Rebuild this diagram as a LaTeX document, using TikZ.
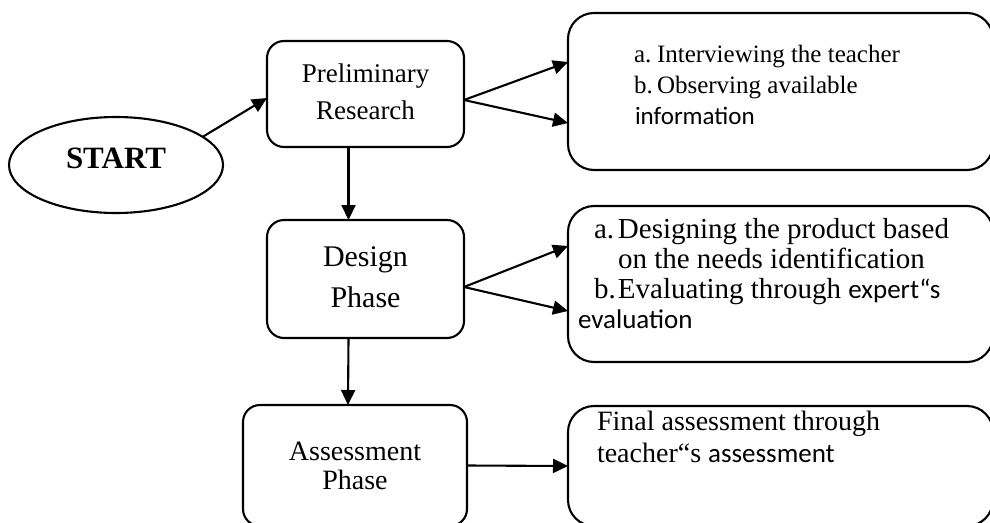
\documentclass[tikz,border=0pt]{standalone}
\usepackage{fontspec}
\setmainfont{Liberation Serif}
\setsansfont{Carlito}
\usetikzlibrary{arrows.meta,shapes.geometric}
\begin{document}
\begin{tikzpicture}[x=1pt,y=-1pt,
  bline/.style={line width=2.1pt},
  arr/.style={bline,-{Triangle[length=15pt,width=14pt]}},
  phasebox/.style={draw,bline,rounded corners=17pt,inner sep=0pt,outer sep=0pt,align=center},
  notebox/.style={draw,bline,rounded corners=26pt,inner sep=0pt,outer sep=0pt,minimum width=425pt},
  txt/.style={anchor=base west,inner sep=0pt,outer sep=0pt}
]
\fill[white] (0,0) rectangle (990,522);
\useasboundingbox (0,0) rectangle (990,522);

% start ellipse
\node[draw,bline,ellipse,inner sep=0pt,outer sep=0pt,minimum width=214pt,minimum height=96pt,
      font=\bfseries\fontsize{31pt}{36pt}\selectfont,text height=21pt,text depth=15pt]
  (start) at (116,165) {START};

% phase boxes
\node[phasebox,minimum width=197pt,minimum height=106pt,font=\fontsize{27pt}{37pt}\selectfont]
  (prelim) at (365.5,94) {Preliminary\\Research\rule[-5pt]{0pt}{5pt}};
\node[phasebox,minimum width=197pt,minimum height=118pt,font=\fontsize{30pt}{41pt}\selectfont]
  (design) at (365.5,279) {Design\\Phase\rule[-4pt]{0pt}{4pt}};
\node[phasebox,minimum width=224pt,minimum height=121pt,font=\fontsize{28pt}{29pt}\selectfont]
  (assess) at (355,465.5) {Assessment\\Phase};

% activity boxes
\node[notebox,minimum height=157pt] (rb1) at (780.5,91.5) {};
\node[notebox,minimum height=156pt] (rb2) at (780.5,284) {};
\node[notebox,minimum height=120pt] (rb3) at (780.5,466) {};

% activity texts
\begin{scope}[font=\fontsize{25pt}{31pt}\selectfont]
\node[txt] (r1a) at (634,62) {\makebox[23pt][l]{a.}Interviewing the teacher};
\node[txt] (r1b) at (634,93) {\makebox[23pt][l]{b.}Observing available};
\node[txt] (r1c) at (635,124) {\sffamily information};
\end{scope}
\begin{scope}[font=\fontsize{29pt}{30pt}\selectfont]
\node[txt] (r2a) at (594,238) {\makebox[24pt][l]{a.}Designing the product based};
\node[txt] (r2b) at (618,268) {on the needs identification};
\node[txt] (r2c) at (594,298) {\makebox[24pt][l]{b.}Evaluating through {\sffamily\fontsize{27pt}{30pt}\selectfont expert“s}};
\node[txt,font=\sffamily\fontsize{27pt}{30pt}\selectfont] (r2d) at (578,328) {evaluation};
\end{scope}
\begin{scope}[font=\fontsize{28pt}{32pt}\selectfont]
\node[txt] (r3a) at (597,430) {Final assessment through};
\node[txt] (r3b) at (597,462) {teacher“s {\sffamily\fontsize{27pt}{32pt}\selectfont assessment}};
\end{scope}

% connectors
\draw[arr] (start.18) -- ([yshift=-4pt]prelim.west);
\coordinate (pfork) at ([yshift=-6pt]prelim.east);
\draw[arr] (pfork) -- ([yshift=29.5pt]rb1.west);
\draw[arr] (pfork) -- ([yshift=-31.5pt]rb1.west);
\draw[arr] ([xshift=-17pt]prelim.south) -- ([xshift=-17pt]design.north);
\coordinate (dfork) at ([yshift=-8pt]design.east);
\draw[arr] (dfork) -- ([yshift=38pt]rb2.west);
\draw[arr] (dfork) -- ([yshift=-27pt]rb2.west);
\draw[arr] ([xshift=-17pt]design.south) -- ([xshift=-7pt]assess.north);
\draw[arr] (assess.east) -- (rb3.west);
\end{tikzpicture}
\end{document}
